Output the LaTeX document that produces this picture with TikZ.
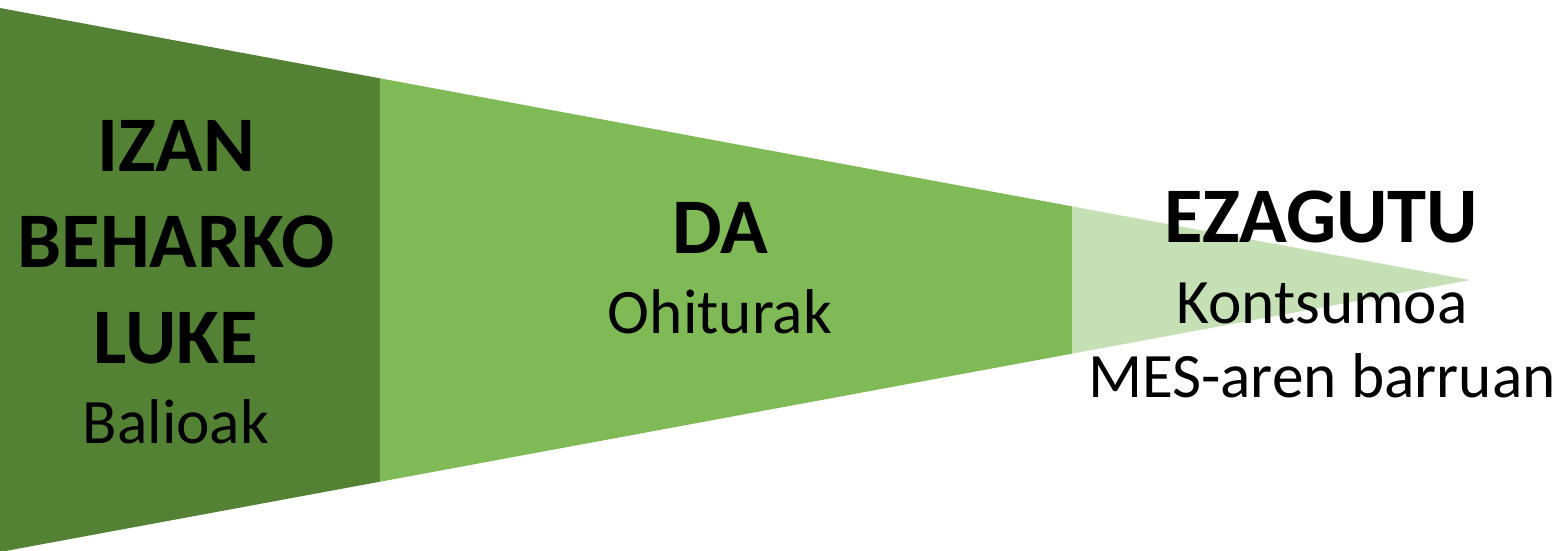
\documentclass[tikz,border=0pt]{standalone}
\usepackage{fontspec}
\setmainfont{Carlito}
\usepackage{tikz}
\usetikzlibrary{calc}

\definecolor{darkleaf}{RGB}{84,130,53}
\definecolor{midleaf}{RGB}{127,186,87}
\definecolor{paleleaf}{RGB}{197,224,180}

\begin{document}
\begin{tikzpicture}[x=0.01cm, y=-0.01cm,
		bigword/.style={anchor=base, inner sep=0pt, font=\fontsize{22.4}{27}\selectfont\bfseries},
		smallword/.style={anchor=base, inner sep=0pt, font=\fontsize{18}{21}\selectfont}]
					\useasboundingbox (0,0) rectangle (1565,550);

					\coordinate (tl) at (0,8);
					\coordinate (bl) at (0,552);
					\coordinate (tip) at (1470,280);
					\coordinate (t1) at ($(tl)!0.2585!(tip)$);
					\coordinate (b1) at ($(bl)!0.2585!(tip)$);
					\coordinate (t2) at ($(tl)!0.7293!(tip)$);
					\coordinate (b2) at ($(bl)!0.7293!(tip)$);

					\fill [darkleaf] (tl) -- (t1) -- (b1) -- (bl) -- cycle;
					\fill [midleaf] (t1) -- (t2) -- (b2) -- (b1) -- cycle;
					\fill [paleleaf] (t2) -- (tip) -- (b2) -- cycle;

					\node [bigword] (izan) at (176,171) {IZAN};
					\node [bigword] (beharko) at (176,267) {BEHARKO};
					\node [bigword] (luke) at (176,363) {LUKE};
					\node [smallword] (balioak) at (176,443) {Balioak};

					\node [bigword] (da) at (720,253) {DA};
					\node [smallword] (ohiturak) at (720,333) {Ohiturak};

					\node [bigword] (ezagutu) at (1321,242) {EZAGUTU};
					\node [smallword] (kontsumoa) at (1322,323) {Kontsumoa};
					\node [smallword] (mes) at (1322,397) {MES-aren barruan};
				\end{tikzpicture}
\end{document}
